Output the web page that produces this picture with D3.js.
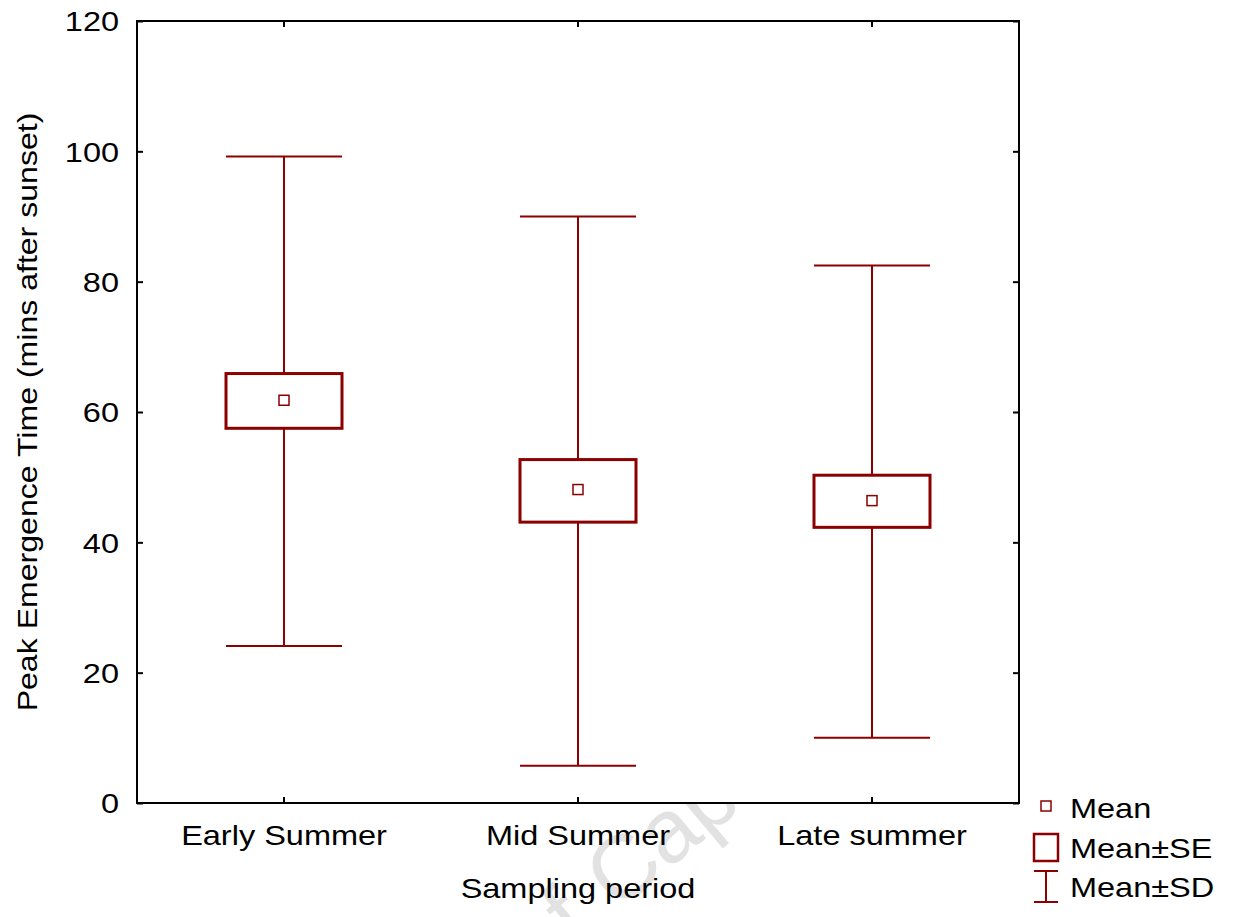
<!DOCTYPE html>
<html>
<head>
<meta charset="utf-8">
<script src="https://cdn.jsdelivr.net/npm/d3@7"></script>
<style>
  html, body { margin: 0; padding: 0; background: #fff; }
  svg text { font-family: "Liberation Sans", Arial, sans-serif; }
</style>
</head>
<body>
<svg id="chart" width="1240" height="917"></svg>
<script>
// Peak emergence time by sampling period (mean, ±SE, ±SD)
const categories = ["Early Summer", "Mid Summer", "Late summer"];
const means   = [61.8, 48.1, 46.4];
const seLow   = [57.5, 43.1, 42.3];
const seHigh  = [65.9, 52.7, 50.3];
const sdLow   = [24.1, 5.7, 10.0];
const sdHigh  = [99.2, 90.0, 82.5];
const yTicks  = [0, 20, 40, 60, 80, 100, 120];
const legendLabels = ["Mean", "Mean±SE", "Mean±SD"];

const colour = "#8b0000";
const fontSize = 28;
const stretch = 1.16;   // text is set slightly wide
const svg = d3.select("#chart");
const margin = { left: 137, right: 221, top: 21, bottom: 114 };
const W = 1240, H = 917;
const x0 = margin.left, x1 = W - margin.right, y0 = margin.top, y1 = H - margin.bottom;

// faint background watermark, mostly hidden by the plot panel
const wm = svg.append("g")
  .attr("transform", "translate(618,912) rotate(-40)")
  .attr("fill", "#e2e2e2")
  .attr("font-size", 90);
wm.append("text").attr("x", -30).attr("text-anchor", "end").text("University of");
wm.append("text").attr("x", 0).text("Cape Town");

const x = d3.scaleBand().domain(categories).range([x0, x1]);
const y = d3.scaleLinear().domain([0, 120]).range([y1, y0]);

// plot panel
svg.append("rect")
  .attr("x", x0).attr("y", y0).attr("width", x1 - x0).attr("height", y1 - y0)
  .attr("fill", "#fff").attr("stroke", "#000").attr("stroke-width", 2);

// inward ticks on all four sides
const axisStyle = g => {
  g.select(".domain").remove();
  g.selectAll(".tick line").attr("stroke", "#000").attr("stroke-width", 2);
};
svg.append("g").attr("transform", `translate(${x0},0)`)
  .call(d3.axisLeft(y).tickValues(yTicks).tickSizeInner(-6).tickPadding(18).tickFormat(d3.format("d")))
  .call(axisStyle)
  .call(g => g.selectAll("text").attr("font-size", fontSize).attr("fill", "#000").attr("dy", "0.35em"));
svg.append("g").attr("transform", `translate(${x1},0)`)
  .call(d3.axisRight(y).tickValues(yTicks).tickSizeInner(-6).tickFormat(""))
  .call(axisStyle);
svg.append("g").attr("transform", `translate(0,${y1})`)
  .call(d3.axisBottom(x).tickSizeInner(-6).tickPadding(22))
  .call(axisStyle)
  .call(g => g.selectAll("text").attr("font-size", fontSize).attr("fill", "#000"));
svg.append("g").attr("transform", `translate(0,${y0})`)
  .call(d3.axisTop(x).tickSizeInner(-6).tickFormat(""))
  .call(axisStyle);

// axis titles
svg.append("text")
  .attr("x", (x0 + x1) / 2).attr("y", 898)
  .attr("text-anchor", "middle").attr("font-size", fontSize).text("Sampling period");
const yTitle = svg.append("text")
  .attr("transform", `translate(37,${(y0 + y1) / 2}) rotate(-90)`)
  .attr("text-anchor", "middle").attr("font-size", fontSize)
  .text("Peak Emergence Time (mins after sunset)");

// whiskers, boxes and mean markers
const boxW = 116;
const groups = svg.append("g").selectAll("g").data(categories).join("g")
  .attr("transform", d => `translate(${x(d) + x.bandwidth() / 2},0)`);

groups.append("line")
  .attr("x1", 0).attr("x2", 0)
  .attr("y1", (d, i) => y(sdHigh[i])).attr("y2", (d, i) => y(sdLow[i]))
  .attr("stroke", colour).attr("stroke-width", 2);
groups.append("line")
  .attr("x1", -boxW / 2).attr("x2", boxW / 2)
  .attr("y1", (d, i) => y(sdHigh[i])).attr("y2", (d, i) => y(sdHigh[i]))
  .attr("stroke", colour).attr("stroke-width", 2);
groups.append("line")
  .attr("x1", -boxW / 2).attr("x2", boxW / 2)
  .attr("y1", (d, i) => y(sdLow[i])).attr("y2", (d, i) => y(sdLow[i]))
  .attr("stroke", colour).attr("stroke-width", 2);
groups.append("rect")
  .attr("x", -boxW / 2).attr("width", boxW)
  .attr("y", (d, i) => y(seHigh[i]))
  .attr("height", (d, i) => y(seLow[i]) - y(seHigh[i]))
  .attr("fill", "#fff").attr("stroke", colour).attr("stroke-width", 3);
groups.append("rect")
  .attr("x", -5).attr("width", 10)
  .attr("y", (d, i) => y(means[i]) - 5).attr("height", 10)
  .attr("fill", "#fff").attr("stroke", colour).attr("stroke-width", 1.5);

// legend
const lg = svg.append("g");
const lx = 1046;
const rows = [808, 848, 887];
lg.append("rect").attr("x", lx - 5).attr("y", rows[0] - 7).attr("width", 10).attr("height", 10)
  .attr("fill", "#fff").attr("stroke", colour).attr("stroke-width", 1.5);
lg.append("rect").attr("x", lx - 12).attr("y", rows[1] - 14).attr("width", 24).attr("height", 27)
  .attr("fill", "#fff").attr("stroke", colour).attr("stroke-width", 2.5);
lg.append("line").attr("x1", lx).attr("x2", lx).attr("y1", rows[2] - 16).attr("y2", rows[2] + 15)
  .attr("stroke", colour).attr("stroke-width", 2);
lg.append("line").attr("x1", lx - 12).attr("x2", lx + 12).attr("y1", rows[2] - 16).attr("y2", rows[2] - 16)
  .attr("stroke", colour).attr("stroke-width", 2);
lg.append("line").attr("x1", lx - 12).attr("x2", lx + 12).attr("y1", rows[2] + 15).attr("y2", rows[2] + 15)
  .attr("stroke", colour).attr("stroke-width", 2);
lg.selectAll("text").data(legendLabels).join("text")
  .attr("x", 1070).attr("y", (d, i) => rows[i]).attr("dy", "0.35em")
  .attr("font-size", fontSize).text(d => d);

// widen every label (not the watermark) along its own baseline
svg.selectAll("text").filter(function () { return !wm.node().contains(this); })
  .each(function () {
    const len = this.getComputedTextLength();
    const k = this === yTitle.node() ? 1.145 : stretch;
    if (len > 0) {
      d3.select(this).attr("textLength", len * k).attr("lengthAdjust", "spacingAndGlyphs");
    }
  });
</script>
</body>
</html>
